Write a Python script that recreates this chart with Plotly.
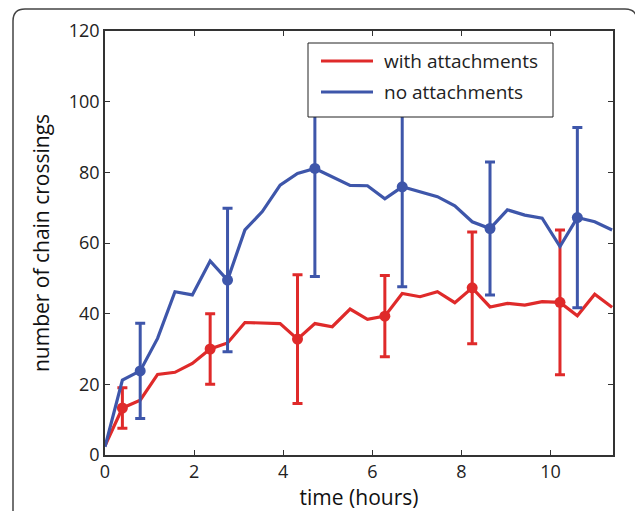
import plotly.graph_objects as go

# time (hours) of each sample
time_h = [0.00, 0.39, 0.79, 1.18, 1.57, 1.96, 2.36, 2.75, 3.14, 3.53,
          3.93, 4.32, 4.71, 5.10, 5.50, 5.89, 6.28, 6.67, 7.07, 7.46,
          7.85, 8.24, 8.64, 9.03, 9.42, 9.81, 10.21, 10.60, 10.99, 11.38]

with_attach = [2.6, 13.3, 15.5, 22.8, 23.4, 25.9, 30.0, 31.7, 37.5, 37.4,
               37.2, 32.8, 37.2, 36.3, 41.3, 38.4, 39.3, 45.7, 44.8, 46.2,
               43.1, 47.3, 41.9, 42.9, 42.4, 43.4, 43.2, 39.4, 45.5, 41.8]

no_attach = [2.3, 21.2, 23.8, 33.0, 46.2, 45.3, 54.9, 49.5, 63.7, 68.9,
             76.4, 79.7, 81.1, 78.7, 76.3, 76.2, 72.5, 75.9, 74.4, 73.1,
             70.5, 66.0, 64.1, 69.4, 67.9, 67.0, 59.0, 67.2, 66.0, 63.7]

# indices of samples shown with markers + error bars, and their error sizes
with_idx = [1, 6, 11, 16, 21, 26]
with_err = [5.7, 10.0, 18.2, 11.5, 15.8, 20.5]
no_idx = [2, 7, 12, 17, 22, 27]
no_err = [13.5, 20.3, 30.6, 28.3, 18.8, 25.5]

series_names = ["with attachments", "no attachments"]
x_ticks = [0, 2, 4, 6, 8, 10]
y_ticks = [0, 20, 40, 60, 80, 100, 120]

RED = "#DF2A2A"
BLUE = "#3E56AA"
FONT = "Open Sans"

fig = go.Figure()

for name, vals, idx, err, col in [
    (series_names[0], with_attach, with_idx, with_err, RED),
    (series_names[1], no_attach, no_idx, no_err, BLUE),
]:
    fig.add_trace(go.Scatter(
        x=time_h, y=vals, mode="lines", name=name,
        line=dict(color=col, width=3.2),
    ))
    fig.add_trace(go.Scatter(
        x=[time_h[i] for i in idx], y=[vals[i] for i in idx],
        mode="markers", name=name,
        marker=dict(color=col, size=11),
        error_y=dict(type="data", array=err, visible=True,
                     color=col, thickness=3, width=5),
    ))

# pixel -> paper conversion
PL, PR, PT, PB = 105, 613, 31, 455
def px(x):
    return (x - PL) / (PR - PL)
def py(y):
    return (PB - y) / (PB - PT)

# outer rounded frame
L, R, T, B = px(13), px(637), py(9), py(530)
rx, ry = 12 / (PR - PL), 12 / (PB - PT)
path = (f"M {L},{B} L {L},{T - ry} Q {L},{T} {L + rx},{T} "
        f"L {R - rx},{T} Q {R},{T} {R},{T - ry} L {R},{B}")

shapes = [dict(type="path", xref="paper", yref="paper", path=path,
               line=dict(color="#444444", width=1.5), layer="above")]
# legend box (drawn above the data)
shapes.append(dict(type="rect", xref="paper", yref="paper",
                   x0=px(308), x1=px(553), y0=py(117), y1=py(43),
                   fillcolor="white", line=dict(color="#222222", width=1),
                   layer="above"))
annotations = []
for name, col, yy in [(series_names[0], RED, 61), (series_names[1], BLUE, 92)]:
    shapes.append(dict(type="line", xref="paper", yref="paper",
                       x0=px(321), x1=px(373), y0=py(yy), y1=py(yy),
                       line=dict(color=col, width=3.2), layer="above"))
    annotations.append(dict(xref="paper", yref="paper", x=px(382), y=py(yy),
                            xanchor="left", yanchor="middle", showarrow=False,
                            text=name, font=dict(size=19, family=FONT, color="#222222")))

fig.update_layout(
    width=635, height=511,
    margin=dict(l=PL, r=635 - PR, t=PT, b=511 - PB),
    paper_bgcolor="white", plot_bgcolor="white",
    font=dict(family=FONT, color="#222222"),
    showlegend=False,
    shapes=shapes, annotations=annotations,
)

fig.update_xaxes(
    range=[0, 11.4], tickvals=x_ticks, ticks="inside", ticklen=5,
    tickcolor="#333333", showline=True, linecolor="#333333", linewidth=1.5,
    mirror="ticks", showgrid=False, zeroline=False, automargin=False,
    tickfont=dict(size=18, family=FONT, color="#222222"),
    title=dict(text="time (hours)", font=dict(size=21, family=FONT, color="#111111"),
               standoff=4),
)
fig.update_yaxes(
    range=[0, 120], tickvals=y_ticks, ticks="inside", ticklen=5,
    tickcolor="#333333", showline=True, linecolor="#333333", linewidth=1.5,
    mirror="ticks", showgrid=False, zeroline=False, automargin=False,
    tickfont=dict(size=18, family=FONT, color="#222222"),
    title=dict(text="number of chain crossings", font=dict(size=21, family=FONT, color="#111111"),
               standoff=13),
)

fig.write_html("out.html", config={"displayModeBar": False},
               post_script="document.body.style.margin='0';document.body.style.overflow='hidden';")
